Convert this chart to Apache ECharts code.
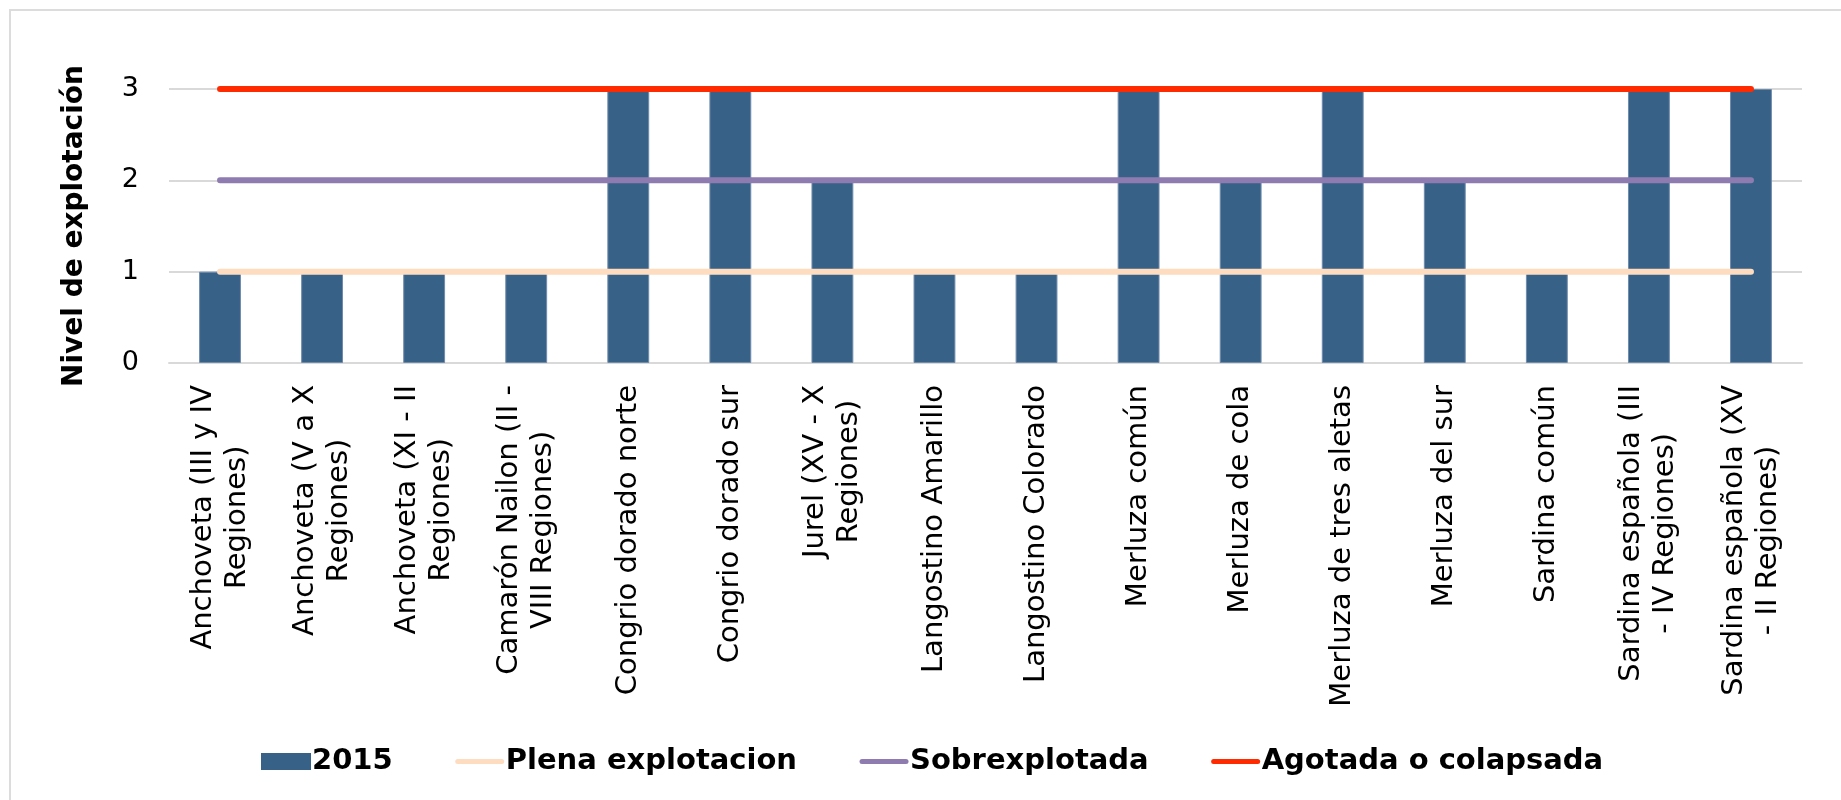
<!DOCTYPE html>
<html>
<head>
<meta charset="utf-8">
<script src="https://cdn.jsdelivr.net/npm/echarts@6/dist/echarts.min.js"></script>
<style>
  html, body { margin: 0; padding: 0; background: #fff; overflow: hidden; }
  #frame { position: absolute; left: 9px; top: 9px; width: 2000px; height: 1000px;
           border-left: 2px solid #dcdcdc; border-top: 2px solid #dcdcdc; }
  #chart { position: absolute; left: 0; top: 0; width: 1841px; height: 800px; }
</style>
</head>
<body>
<div id="frame"></div>
<div id="chart"></div>
<script>
const categories = [
  "Anchoveta (III y IV\nRegiones)",
  "Anchoveta (V a X\nRegiones)",
  "Anchoveta (XI - II\nRegiones)",
  "Camarón Nailon (II -\nVIII Regiones)",
  "Congrio dorado norte",
  "Congrio dorado sur",
  "Jurel (XV - X\nRegiones)",
  "Langostino Amarillo",
  "Langostino Colorado",
  "Merluza común",
  "Merluza de cola",
  "Merluza de tres aletas",
  "Merluza del sur",
  "Sardina común",
  "Sardina española (III\n- IV Regiones)",
  "Sardina española (XV\n- II Regiones)"
];
const nivel2015 = [1, 1, 1, 1, 3, 3, 2, 1, 1, 3, 2, 3, 2, 1, 3, 3];
const plena = [1, 1, 1, 1, 1, 1, 1, 1, 1, 1, 1, 1, 1, 1, 1, 1];
const sobre = [2, 2, 2, 2, 2, 2, 2, 2, 2, 2, 2, 2, 2, 2, 2, 2];
const agotada = [3, 3, 3, 3, 3, 3, 3, 3, 3, 3, 3, 3, 3, 3, 3, 3];

const font = "'DejaVu Sans', Verdana, sans-serif";
// thick rounded line inside a 50x17 box, for the legend
const lineIcon = "path://M0,0L0,0M50,17L50,17M3,6L47,6A2.5,2.5,0,0,1,47,11L3,11A2.5,2.5,0,0,1,3,6Z";

const myChart = echarts.init(document.getElementById("chart"));
const option = {
  animation: false,
  textStyle: { fontFamily: font },
  grid: { left: 169, right: 39, top: 89, bottom: 437, containLabel: false },
  legend: {
    bottom: 24,
    left: 261,
    padding: 0,
    itemWidth: 50,
    itemHeight: 17,
    itemGap: 62,
    textStyle: { fontSize: 29, fontWeight: "bold", color: "#000", fontFamily: font, padding: [0, 0, 0, -4] },
    data: [
      { name: "2015", icon: "rect", itemStyle: { borderWidth: 0 } },
      { name: "Plena explotacion", icon: lineIcon },
      { name: "Sobrexplotada", icon: lineIcon },
      { name: "Agotada o colapsada", icon: lineIcon }
    ]
  },
  xAxis: {
    type: "category",
    data: categories,
    axisLine: { lineStyle: { color: "#d9d9d9", width: 2 } },
    axisTick: { show: false },
    axisLabel: {
      rotate: 90,
      margin: 22,
      interval: 0,
      color: "#000",
      fontSize: 29,
      lineHeight: 34,
      fontFamily: font,
      formatter: function (v) {
        return v.split("\n").map(function (s) { return "{c|" + s + "}"; }).join("\n");
      },
      rich: {
        c: { align: "center", fontSize: 29, lineHeight: 34, fontFamily: font, color: "#000" }
      }
    }
  },
  yAxis: {
    type: "value",
    min: 0,
    max: 3,
    interval: 1,
    name: "Nivel de explotación",
    nameLocation: "middle",
    nameGap: 80,
    nameTextStyle: { fontSize: 28, fontWeight: "bold", color: "#000", fontFamily: font },
    axisLine: { show: false },
    axisTick: { show: false },
    axisLabel: { margin: 30, fontSize: 27, color: "#000", fontFamily: font },
    splitLine: { lineStyle: { color: "#d9d9d9", width: 2 } }
  },
  series: [
    {
      name: "2015",
      type: "bar",
      data: nivel2015,
      barWidth: "41%",
      itemStyle: { color: "#386188", borderColor: "#6f8cab", borderWidth: 1 }
    },
    {
      name: "Plena explotacion",
      type: "line",
      data: plena,
      symbol: "none",
      color: "#fddcc0",
      lineStyle: { width: 6, color: "#fddcc0", cap: "round" }
    },
    {
      name: "Sobrexplotada",
      type: "line",
      data: sobre,
      symbol: "none",
      color: "#8e7cb1",
      lineStyle: { width: 6, color: "#8e7cb1", cap: "round" }
    },
    {
      name: "Agotada o colapsada",
      type: "line",
      data: agotada,
      symbol: "none",
      color: "#ff2a00",
      lineStyle: { width: 6, color: "#ff2a00", cap: "round" }
    }
  ]
};
myChart.setOption(option);
window.addEventListener("resize", function () {
  myChart.resize();
});
</script>
</body>
</html>
